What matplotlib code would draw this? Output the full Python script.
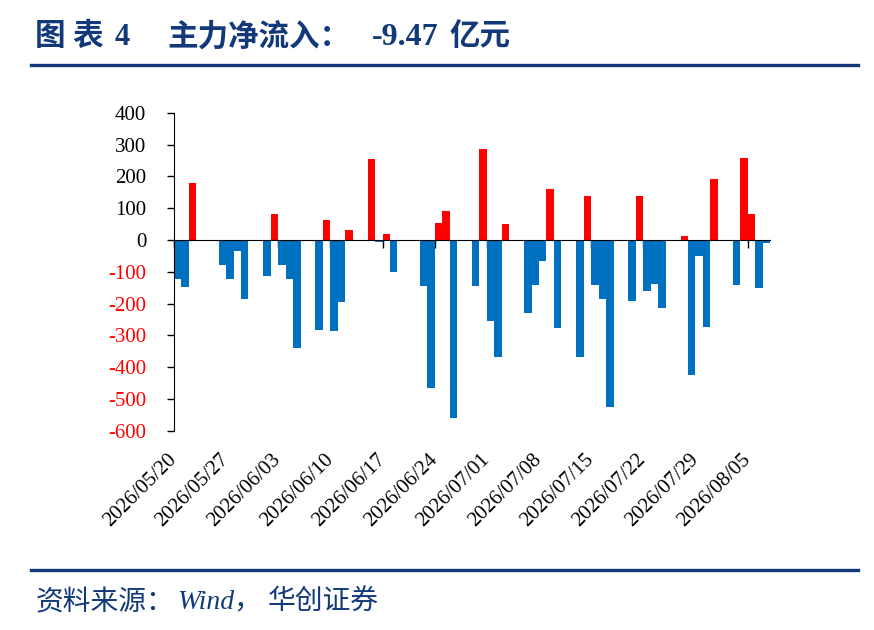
import matplotlib
matplotlib.use('Agg')
import matplotlib.pyplot as plt
import matplotlib.dates as mdates
from matplotlib.lines import Line2D

plt.rcParams['axes.unicode_minus'] = False

# trading days and main net inflow (亿元)
dates = ['2026-05-20', '2026-05-21', '2026-05-22', '2026-05-25', '2026-05-26',
         '2026-05-27', '2026-05-28', '2026-05-29', '2026-06-01', '2026-06-02',
         '2026-06-03', '2026-06-04', '2026-06-05', '2026-06-08', '2026-06-09',
         '2026-06-10', '2026-06-11', '2026-06-12', '2026-06-15', '2026-06-16',
         '2026-06-17', '2026-06-18', '2026-06-22', '2026-06-23', '2026-06-24',
         '2026-06-25', '2026-06-26', '2026-06-29', '2026-06-30', '2026-07-01',
         '2026-07-02', '2026-07-03', '2026-07-06', '2026-07-07', '2026-07-08',
         '2026-07-09', '2026-07-10', '2026-07-13', '2026-07-14', '2026-07-15',
         '2026-07-16', '2026-07-17', '2026-07-20', '2026-07-21', '2026-07-22',
         '2026-07-23', '2026-07-24', '2026-07-27', '2026-07-28', '2026-07-29',
         '2026-07-30', '2026-07-31', '2026-08-03', '2026-08-04', '2026-08-05',
         '2026-08-06', '2026-08-07']
flows = [-121, -149, 180, -4, -80,
         -124, -36, -184, -114, 83,
         -77, -124, -338, -282, 64,
         -285, -195, 33, 255, -7,
         19, -99, -143, -464, 53,
         91, -559, -143, 287, -253,
         -367, 50, -228, -140, -67,
         161, -278, -367, 139, -140,
         -184, -524, -193, 138, -159,
         -137, -215, 14, -423, -51,
         -272, 193, -140, 259, 83,
         -152, -9.47]

tick_dates = ['2026-05-20', '2026-05-27', '2026-06-03', '2026-06-10', '2026-06-17',
              '2026-06-24', '2026-07-01', '2026-07-08', '2026-07-15', '2026-07-22',
              '2026-07-29', '2026-08-05']
tick_labels = [d.replace('-', '/') for d in tick_dates]
yticks = [400, 300, 200, 100, 0, -100, -200, -300, -400, -500, -600]

navy = '#12397A'
red = '#FF0000'
blue = '#0070C0'
serif = ['Liberation Serif', 'Noto Sans CJK SC']

x = mdates.datestr2num(dates)
colors = [red if v > 0 else blue for v in flows]

fig = plt.figure(figsize=(8.74, 6.3), dpi=100)
ax = fig.add_axes([0.199, 0.316, 0.682, 0.505])
ax.bar(x, flows, width=1.0, align='edge', color=colors, linewidth=0, zorder=2)

ax.set_xlim(mdates.datestr2num('2026-05-20'), mdates.datestr2num('2026-08-08'))
ax.set_ylim(-600, 400)

# y axis
ax.set_yticks(yticks)
ax.set_yticklabels([str(v) for v in yticks], fontfamily=serif, fontsize=15)
for lbl, v in zip(ax.get_yticklabels(), yticks):
    lbl.set_color(red if v < 0 else 'black')
ax.tick_params(axis='y', length=5, width=1, pad=15)

# x axis crosses at zero, labels stay at the bottom
for s in ['top', 'right']:
    ax.spines[s].set_visible(False)
ax.spines['bottom'].set_position(('data', 0))
ax.spines['bottom'].set_zorder(3)
ax.set_xticks(mdates.datestr2num(tick_dates))
ax.tick_params(axis='x', length=6, width=1, labelbottom=False)

sec = ax.secondary_xaxis('bottom')
sec.set_xticks(mdates.datestr2num(tick_dates), labels=tick_labels)
sec.spines['bottom'].set_visible(False)
sec.tick_params(axis='x', length=0, pad=19)
for lbl in sec.get_xticklabels():
    lbl.set_fontfamily(serif)
    lbl.set_fontsize(15)
    lbl.set_rotation(45)
    lbl.set_ha('right')
    lbl.set_va('center')
    lbl.set_rotation_mode('anchor')

# header
title_kw = dict(fontfamily=serif, fontsize=22, fontweight='bold', color=navy, va='center')
fig.text(0.040, 0.940, '图 表', **title_kw)
fig.text(0.131, 0.940, '4', **title_kw)
fig.text(0.192, 0.940, '主力净流入：', **title_kw)
fig.text(0.425, 0.940, '-9.47', fontfamily=serif, fontsize=23, fontweight='bold',
         color=navy, va='center')
fig.text(0.514, 0.940, '亿元', **title_kw)
fig.add_artist(Line2D([0.035, 0.982], [0.897, 0.897], color=navy, linewidth=2.4))

# footer
fig.add_artist(Line2D([0.035, 0.982], [0.0952, 0.0952], color=navy, linewidth=2.4))
foot_kw = dict(fontfamily=serif, fontsize=20, fontstyle='italic', color=navy, va='center')
fig.text(0.041, 0.043, '资料来源：', **foot_kw)
fig.text(0.2025, 0.043, 'Wind', **foot_kw)
fig.text(0.2666, 0.043, '，', **foot_kw)
fig.text(0.3066, 0.043, '华创证券', **foot_kw)

fig.savefig('out.png', dpi=100)
